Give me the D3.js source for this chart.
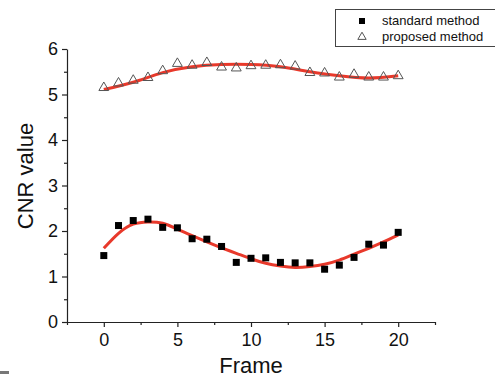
<!DOCTYPE html>
<html>
<head>
<meta charset="utf-8">
<script src="https://cdn.jsdelivr.net/npm/d3@7"></script>
<style>
  body { margin: 0; background: #fff; }
  svg { display: block; font-family: "Liberation Sans", Arial, sans-serif; }
  .axis path, .axis line { stroke: #222; stroke-width: 1.2; }
  .axis text { fill: #111; }
</style>
</head>
<body>
<div id="chart"></div>
<script>
var frames = d3.range(0, 21);
var standardVals = [1.46, 2.12, 2.23, 2.26, 2.08, 2.07, 1.83, 1.82, 1.66, 1.31, 1.40,
                    1.41, 1.31, 1.30, 1.30, 1.16, 1.25, 1.42, 1.71, 1.69, 1.97];
var proposedVals = [5.15, 5.25, 5.31, 5.37, 5.52, 5.68, 5.64, 5.70, 5.60, 5.58, 5.63,
                    5.64, 5.65, 5.62, 5.48, 5.47, 5.38, 5.44, 5.38, 5.38, 5.41];
// fitted curves (one value per frame)
var standardFit = [1.62, 1.95, 2.15, 2.20, 2.17, 2.04, 1.90, 1.76, 1.63, 1.51, 1.39,
                   1.29, 1.23, 1.20, 1.22, 1.27, 1.36, 1.49, 1.62, 1.76, 1.91];
var proposedFitFrames = [0, 2, 4, 6, 8, 10, 12, 14, 16, 18, 20];
var proposedFit = [5.11, 5.27, 5.48, 5.61, 5.66, 5.66, 5.61, 5.50, 5.41, 5.36, 5.41];
var xTicks = [0, 5, 10, 15, 20];
var yTicks = [0, 1, 2, 3, 4, 5, 6];
var legendLabels = ["standard method", "proposed method"];

var width = 495, height = 378;
var x = d3.scaleLinear().domain([-2.5, 22.5]).range([67, 435]);
var y = d3.scaleLinear().domain([0, 6]).range([322, 49]);

var svg = d3.select("#chart").append("svg")
    .attr("width", width)
    .attr("height", height);

// axes
svg.append("g").attr("class", "axis")
    .attr("transform", "translate(0," + y(0) + ")")
    .call(d3.axisBottom(x).tickValues(xTicks).tickSize(5).tickSizeOuter(0).tickPadding(6));
svg.append("g").attr("class", "axis")
    .attr("transform", "translate(0," + y(0) + ")")
    .call(d3.axisBottom(x).tickValues([-2.5, 2.5, 7.5, 12.5, 17.5, 22.5])
      .tickSize(3).tickFormat(""))
    .select(".domain").remove();

svg.append("g").attr("class", "axis")
    .attr("transform", "translate(" + x(-2.5) + ",0)")
    .call(d3.axisLeft(y).tickValues(yTicks).tickFormat(d3.format("d"))
      .tickSize(5).tickSizeOuter(0).tickPadding(4));
svg.append("g").attr("class", "axis")
    .attr("transform", "translate(" + x(-2.5) + ",0)")
    .call(d3.axisLeft(y).tickValues(d3.range(0.5, 6, 1)).tickSize(3).tickFormat(""))
    .select(".domain").remove();

svg.selectAll(".axis text").style("font-size", "18px");

// axis titles
svg.append("text")
    .attr("x", 251).attr("y", 373)
    .attr("text-anchor", "middle")
    .style("font-size", "22px").style("fill", "#111")
    .text("Frame");
svg.append("text")
    .attr("transform", "translate(33,176) rotate(-90)")
    .attr("text-anchor", "middle")
    .style("font-size", "22px").style("fill", "#111")
    .text("CNR value");

// fit lines
var line = d3.line()
    .x(function(d) { return x(d[0]); })
    .y(function(d) { return y(d[1]); })
    .curve(d3.curveNatural);
svg.append("path")
    .datum(frames.map(function(f, i) { return [f, standardFit[i]]; }))
    .attr("fill", "none").attr("stroke", "#e8392b").attr("stroke-width", 3)
    .attr("d", line);
svg.append("path")
    .datum(proposedFitFrames.map(function(f, i) { return [f, proposedFit[i]]; }))
    .attr("fill", "none").attr("stroke", "#e8392b").attr("stroke-width", 3)
    .attr("d", line);

// markers
svg.selectAll(".sq").data(standardVals).enter().append("rect")
    .attr("class", "sq")
    .attr("x", function(d, i) { return x(frames[i]) - 3.5; })
    .attr("y", function(d) { return y(d) - 3.5; })
    .attr("width", 7).attr("height", 7)
    .attr("fill", "#000");

var tri = d3.symbol().type(d3.symbolTriangle).size(42);
svg.selectAll(".tri").data(proposedVals).enter().append("path")
    .attr("class", "tri")
    .attr("transform", function(d, i) { return "translate(" + x(frames[i]) + "," + y(d) + ")"; })
    .attr("d", tri)
    .attr("fill", "none")
    .attr("stroke", "#555")
    .attr("stroke-width", 1);

// legend
var lg = svg.append("g");
lg.append("rect")
    .attr("x", 335.5).attr("y", 9.5).attr("width", 170).attr("height", 37)
    .attr("fill", "#fff").attr("stroke", "#444").attr("stroke-width", 1);
lg.append("rect").attr("x", 359).attr("y", 18).attr("width", 6).attr("height", 6).attr("fill", "#000");
lg.append("path").attr("transform", "translate(362,37)")
    .attr("d", d3.symbol().type(d3.symbolTriangle).size(30))
    .attr("fill", "none").attr("stroke", "#555");
lg.selectAll(".lt").data(legendLabels).enter().append("text")
    .attr("x", 382).attr("y", function(d, i) { return 25 + i * 16; })
    .style("font-size", "13px").style("fill", "#111")
    .text(function(d) { return d; });

// cropped glyph at bottom-left edge
svg.append("rect").attr("x", 0).attr("y", 371).attr("width", 9).attr("height", 3).attr("fill", "#777");
</script>
</body>
</html>
